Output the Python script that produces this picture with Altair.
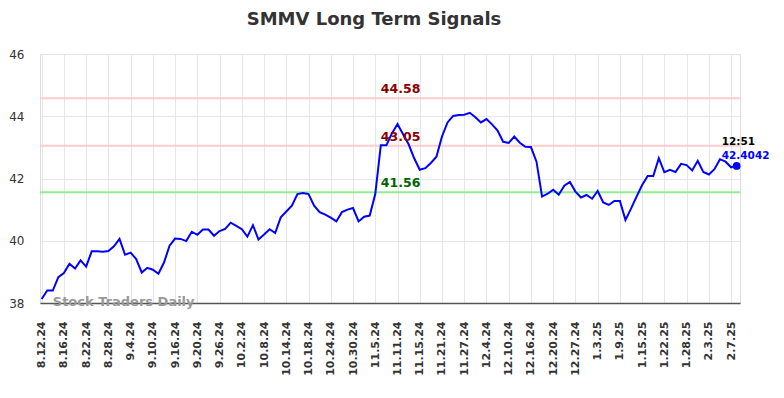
import json
import altair as alt
import pandas as pd

tick_labels = ["8.12.24", "8.16.24", "8.22.24", "8.28.24", "9.4.24", "9.10.24", "9.16.24",
               "9.20.24", "9.26.24", "10.2.24", "10.8.24", "10.14.24", "10.18.24", "10.24.24",
               "10.30.24", "11.5.24", "11.11.24", "11.15.24", "11.21.24", "11.27.24", "12.4.24",
               "12.10.24", "12.16.24", "12.20.24", "12.27.24", "1.3.25", "1.9.25", "1.15.25",
               "1.22.25", "1.28.25", "2.3.25", "2.7.25"]

prices = [38.13, 38.40, 38.40, 38.83, 38.96, 39.26, 39.11, 39.37, 39.17, 39.66,
          39.66, 39.65, 39.67, 39.82, 40.06, 39.55, 39.62, 39.41, 38.98, 39.13,
          39.07, 38.94, 39.30, 39.84, 40.07, 40.06, 39.99, 40.29, 40.19, 40.36,
          40.36, 40.16, 40.31, 40.38, 40.58, 40.48, 40.37, 40.13, 40.50, 40.04,
          40.20, 40.37, 40.25, 40.75, 40.94, 41.13, 41.50, 41.53, 41.50, 41.13,
          40.92, 40.84, 40.74, 40.62, 40.92, 41.00, 41.05, 40.62, 40.77, 40.81,
          41.50, 43.07, 43.07, 43.45, 43.75, 43.42, 43.10, 42.65, 42.28, 42.33,
          42.50, 42.70, 43.35, 43.80, 44.01, 44.04, 44.05, 44.11, 43.97, 43.80,
          43.91, 43.74, 43.54, 43.18, 43.14, 43.35, 43.15, 43.02, 43.01, 42.54,
          41.42, 41.51, 41.64, 41.48, 41.77, 41.89, 41.58, 41.39, 41.47, 41.35,
          41.60, 41.23, 41.15, 41.28, 41.28, 40.67, 41.03, 41.42, 41.79, 42.08,
          42.08, 42.65, 42.20, 42.28, 42.21, 42.47, 42.43, 42.26, 42.57, 42.21,
          42.13, 42.30, 42.62, 42.54, 42.36, 42.4042]

level_values = [44.58, 43.05, 41.56]
level_labels = ["44.58", "43.05", "41.56"]
level_line_colors = ["#ffcccc", "#ffcccc", "#90ee90"]
level_text_colors = ["#8b0000", "#8b0000", "#006400"]

last_time = "12:51"
last_value_label = "42.4042"
watermark = "Stock Traders Daily"

tick_step = 4
level_x = 61

df = pd.DataFrame({"i": list(range(len(prices))), "price": prices})
levels = pd.DataFrame({"y": level_values, "label": level_labels,
                       "lc": level_line_colors, "tc": level_text_colors, "x": [level_x] * 3})
last_i = len(prices) - 1
last = pd.DataFrame({"i": [last_i], "price": [prices[-1]],
                     "t": [last_time], "v": [last_value_label]})
wm = pd.DataFrame({"i": [2], "price": [38.0], "t": [watermark]})

label_expr = json.dumps(tick_labels) + "[round(datum.value / %d)]" % tick_step

xscale = alt.Scale(domain=[-0.3, 125.6], nice=False, zero=False)
yscale = alt.Scale(domain=[38, 46], nice=False, zero=False)

xaxis = alt.Axis(values=list(range(0, tick_step * len(tick_labels), tick_step)),
                 labelExpr=label_expr, labelAngle=270, labelAlign="right",
                 labelBaseline="middle", labelFont="DejaVu Sans", labelFontSize=11,
                 labelFontWeight="bold", labelColor="#333333", labelPadding=18,
                 ticks=False, grid=True, gridColor="#e6e6e6", gridWidth=1,
                 domain=True, domainColor="#555555", domainWidth=1.5, title=None,
                 labelOverlap=False, labelBound=False, labelFlush=False)
yaxis = alt.Axis(values=[38, 40, 42, 44, 46], labelFont="DejaVu Sans", labelFontSize=12,
                 labelColor="#333333", labelPadding=16, ticks=False, grid=True,
                 gridColor="#e6e6e6", gridWidth=1, domain=False, title=None)

X = lambda f: alt.X(f, type="quantitative", scale=xscale, axis=xaxis)
Y = lambda f: alt.Y(f, type="quantitative", scale=yscale, axis=yaxis)

line = alt.Chart(df).mark_line(color="#0000ff", strokeWidth=2).encode(
    x=X("i"), y=Y("price"))

rules = alt.Chart(levels).mark_rule(strokeWidth=2).encode(
    y=Y("y"), color=alt.Color("lc:N", scale=None))

level_text = alt.Chart(levels).mark_text(
    align="left", baseline="bottom", dy=-2, font="DejaVu Sans", fontSize=12.5,
    fontWeight="bold").encode(
    x=X("x"), y=Y("y"), text="label:N", color=alt.Color("tc:N", scale=None))

dot = alt.Chart(last).mark_circle(size=60, color="#0000ff", opacity=1).encode(
    x=X("i"), y=Y("price"))

time_text = alt.Chart(last).mark_text(
    align="left", baseline="middle", dx=-15, dy=-24, font="DejaVu Sans", fontSize=10.5,
    fontWeight="bold", color="#000000").encode(x=X("i"), y=Y("price"), text="t:N")

val_text = alt.Chart(last).mark_text(
    align="left", baseline="middle", dx=-15, dy=-10, font="DejaVu Sans", fontSize=10.5,
    fontWeight="bold", color="#0000ff").encode(x=X("i"), y=Y("price"), text="v:N")

wm_text = alt.Chart(wm).mark_text(
    align="left", baseline="middle", dy=-1, font="DejaVu Sans", fontSize=13,
    fontWeight="bold", color="#999999").encode(x=X("i"), y=Y("price"), text="t:N")

chart = alt.layer(rules, line, level_text, dot, time_text, val_text, wm_text).properties(
    width=700, height=249,
    title=alt.TitleParams("SMMV Long Term Signals", font="DejaVu Sans", fontSize=18,
                          fontWeight="bold", color="#333333", anchor="middle",
                          offset=19, dx=-16),
    autosize=alt.AutoSizeParams(type="none"),
    padding={"left": 32, "top": 46, "right": 36, "bottom": 80},
).configure_view(stroke=None).configure_axis(labelOverlap=False).configure(background="white")

chart.save("out.html", embed_options={"renderer": "svg", "actions": False})
